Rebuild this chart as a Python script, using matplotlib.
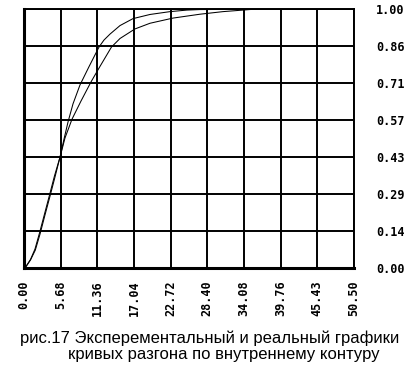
import matplotlib
matplotlib.use("Agg")
import matplotlib.pyplot as plt

# Time values (x) and responses for the two acceleration curves
x_a = [0, 0.31, 1.01, 1.75, 2.48, 3.25, 4.03, 4.80, 5.58, 6.20, 6.82, 7.59, 8.67,
       10.07, 11.62, 12.39, 13.32, 14.87, 16.89, 19.52, 22.62, 25.25, 27.26, 35.47]
y_a = [0, 0.004, 0.030, 0.068, 0.130, 0.204, 0.277, 0.351, 0.428, 0.498, 0.564, 0.634,
       0.707, 0.778, 0.854, 0.881, 0.904, 0.937, 0.964, 0.980, 0.991, 0.997, 0.999, 1.0]

x_b = [0, 0.31, 1.01, 1.70, 2.40, 3.18, 3.95, 4.72, 5.58, 6.35, 7.44, 8.83, 10.38,
       11.77, 13.55, 14.87, 17.19, 19.52, 23.08, 27.26, 30.83, 33.93, 35.47]
y_b = [0, 0.005, 0.032, 0.072, 0.134, 0.208, 0.281, 0.355, 0.428, 0.502, 0.575, 0.645,
       0.719, 0.779, 0.854, 0.887, 0.924, 0.946, 0.966, 0.981, 0.991, 0.997, 1.0]

x_ticks = [0.00, 5.68, 11.36, 17.04, 22.72, 28.40, 34.08, 39.76, 45.44, 51.12]
x_labels = ["0.00", "5.68", "11.36", "17.04", "22.72", "28.40", "34.08", "39.76", "45.43", "50.50"]
y_ticks = [0, 1/7, 2/7, 3/7, 4/7, 5/7, 6/7, 1]
y_labels = ["0.00", "0.14", "0.29", "0.43", "0.57", "0.71", "0.86", "1.00"]

caption_1 = "рис.17 Эксперементальный и реальный графики"
caption_2 = "кривых разгона по внутреннему контуру"

fig = plt.figure(figsize=(4.19, 3.67), dpi=100)
ax = fig.add_axes([24/419, 1 - 267.7/367, 330/419, 258.4/367])

ax.plot(x_a, y_a, color="black", linewidth=0.75)
ax.plot(x_b, y_b, color="black", linewidth=0.75)

ax.set_xlim(0, 51.12)
ax.set_ylim(0, 1)
ax.set_xticks(x_ticks)
ax.set_xticklabels(x_labels, rotation=90, fontsize=8.5, fontweight="bold", family="DejaVu Sans Mono")
ax.set_yticks(y_ticks)
ax.set_yticklabels(y_labels, fontsize=8.5, fontweight="bold", family="DejaVu Sans Mono")
ax.yaxis.tick_right()
ax.tick_params(axis="both", length=0)
ax.tick_params(axis="x", pad=9)
ax.tick_params(axis="y", pad=16)
ax.grid(True, color="black", linewidth=1.4)

for side in ["top", "right"]:
    ax.spines[side].set_linewidth(1.4)
for side in ["left", "bottom"]:
    ax.spines[side].set_linewidth(2.2)

fig.text(20/419, 1 - 338/367, caption_1, fontsize=12, family="Liberation Sans", va="center", ha="left")
fig.text(68/419, 1 - 355/367, caption_2, fontsize=12, family="Liberation Sans", va="center", ha="left")

fig.savefig("out.png", dpi=100)
